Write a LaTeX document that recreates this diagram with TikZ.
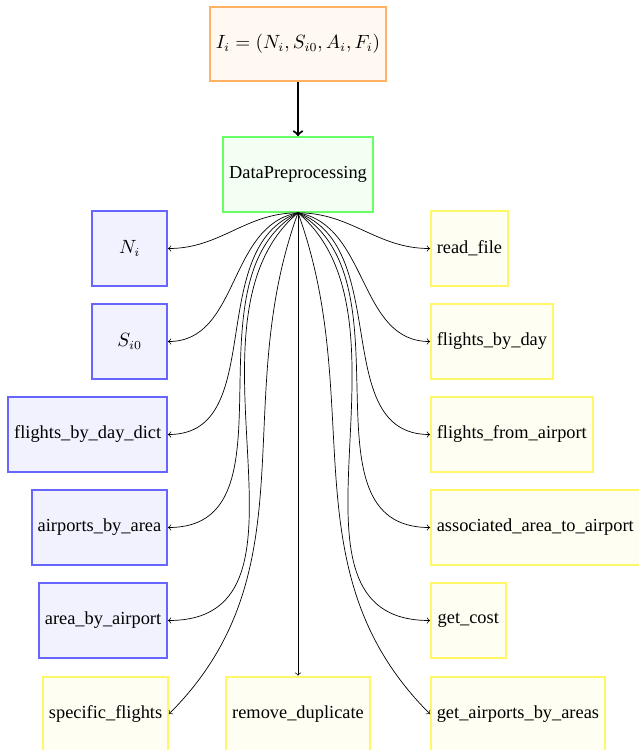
\documentclass[tikz,border=0pt]{standalone}
\usepackage[no-math]{fontspec}
\setmainfont{Liberation Serif}
\begin{document}
\begin{tikzpicture}[x=0.5714pt,y=-0.5714pt,
  box/.style={draw, line width=1.1pt, minimum width=1.5cm, minimum height=1.5cm,
    align=center, font=\fontsize{10.5}{12.6}\selectfont},
  inbox/.style={box, draw=orange!60, fill=orange!5},
  probox/.style={box, draw=green!60, fill=green!5},
  varbox/.style={box, draw=blue!60, fill=blue!5},
  funbox/.style={box, draw=yellow!60, fill=yellow!5},
  link/.style={->}]
\useasboundingbox (0,0) rectangle (639,750);

% input and preprocessing stage
\node[inbox] (inp) at (298,44) {$I_i = (N_i, S_{i0}, A_i, F_i)$};
\node[probox] (dp) at (298,174.5) {DataPreprocessing};
\draw[->, very thick] (inp.south) -- (dp.north);

% produced data (left column)
\node[varbox, anchor=east] (ni)   at (168,248.5) {$N_i$};
\node[varbox, anchor=east] (si)   at (168,341.5) {$S_{i0}$};
\node[varbox, anchor=east] (fbdd) at (168,434.5) {flights\_by\_day\_dict};
\node[varbox, anchor=east] (apa)  at (168,527.5) {airports\_by\_area};
\node[varbox, anchor=east] (aba)  at (168,620.5) {area\_by\_airport};
\node[funbox, anchor=east] (spf)  at (169,714)   {specific\_flights};

% helper functions (right column and bottom)
\node[funbox, anchor=west] (rf)   at (430,248.5) {read\_file};
\node[funbox, anchor=west] (fbd)  at (430,341.5) {flights\_by\_day};
\node[funbox, anchor=west] (ffa)  at (430,434.5) {flights\_from\_airport};
\node[funbox, anchor=west] (aaa)  at (430,527.5) {associated\_area\_to\_airport};
\node[funbox, anchor=west] (gc)   at (430,620.5) {get\_cost};
\node[funbox, anchor=west] (gaba) at (430,714)   {get\_airports\_by\_areas};
\node[funbox] (rd) at (298,714) {remove\_duplicate};

% fan of connectors
\draw[link] (dp.south) to[out=180, in=0] (ni.east);
\draw[link] (dp.south) to[out=190, in=0] (si.east);
\draw[link] (dp.south) to[out=200, in=0] (fbdd.east);
\draw[link] (dp.south) to[out=210, in=0] (apa.east);
\draw[link] (dp.south) to[out=220, in=0] (aba.east);
\draw[link] (dp.south) to[out=250, in=45] (spf.east);
\draw[link] (dp.south) -- (rd.north);
\draw[link] (dp.south) to[out=0, in=180] (rf.west);
\draw[link] (dp.south) to[out=-10, in=180] (fbd.west);
\draw[link] (dp.south) to[out=-20, in=180] (ffa.west);
\draw[link] (dp.south) to[out=-30, in=180] (aaa.west);
\draw[link] (dp.south) to[out=-40, in=180] (gc.west);
\draw[link] (dp.south) to[out=-70, in=135] (gaba.west);
\end{tikzpicture}
\end{document}
